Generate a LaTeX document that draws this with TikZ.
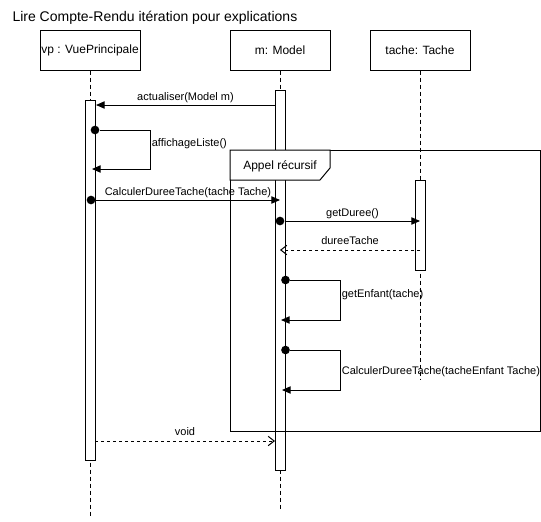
\documentclass[tikz,border=0pt]{standalone}
\usepackage{fontspec}
\setmainfont{Liberation Sans}
\usetikzlibrary{positioning,arrows.meta}
\begin{document}
\begin{tikzpicture}[x=0.75pt,y=-0.75pt,line width=0.75pt,
obj/.style = {draw, fill=white, minimum width=75pt, minimum height=30pt, inner sep=0pt, font=\fontsize{9}{11}\selectfont},
act/.style = {draw, fill=white, minimum width=7.5pt, inner sep=0pt},
lifeline/.style = {dash pattern=on 3pt off 2.25pt},
point/.style = {circle, fill = black, inner sep = 0pt, minimum size = 6.5pt},
msg/.style = {-{Triangle[length=6.5pt,width=5.5pt]}},
reply/.style = {dash pattern=on 2.25pt off 2.25pt, -{Straight Barb[length=4.5pt,width=7pt]}},
msglabel/.style = {midway, anchor=base, inner sep=0pt, yshift=3.5pt, font=\fontsize{8.25}{10}\selectfont},
selflabel/.style = {midway, anchor=base west, inner sep=1pt, font=\fontsize{8.25}{10}\selectfont},
]
\useasboundingbox (0,0) rectangle (541,521);
\node (title) at (12,21)[anchor=base west, inner sep=0pt, font=\fontsize{10.5}{12}\selectfont] {Lire Compte-Rendu itération pour explications};
\node (vp) at (90,50)[obj] {vp : VuePrincipale};
\node (m) at (280,50)[obj] {m: Model};
\node (tache) at (420,50)[obj] {tache: Tache};
\coordinate (vpend) at (90,517);
\coordinate (mend) at (280,510);
\coordinate (tacheend) at (420,380);
\draw[lifeline] (vp) -- (vpend);
\draw[lifeline] (m) -- (mend);
\draw[lifeline] (tache) -- (tacheend);
\node (vpact) at (90,280)[act, minimum height=270pt] {};
\node (mact) at (280,280)[act, minimum height=285pt] {};
\node (tacheact) at (420,225)[act, minimum height=67.5pt] {};
\draw (230,150) rectangle (540,431);
\draw[fill=white] (230,150) -- (330,150) -- (330,168) -- (320,180) -- (230,180) -- cycle;
\node (looplabel) at (280,169)[anchor=base, inner sep=0pt, font=\fontsize{9}{11}\selectfont] {Appel récursif};
\coordinate (m1) at (275,105);
\coordinate (vp1) at (96,105);
\draw[msg] (m1) -- node[msglabel] (lactualiser) {actualiser(Model m)} (vp1);
\node (dot1) at (95,130)[point] {};
\coordinate (aff1) at (150,130);
\coordinate (aff2) at (150,169);
\coordinate (aff3) at (92,169);
\draw[msg] (dot1) -- (aff1) -- node[selflabel, yshift=1.9pt] (laffichage) {affichageListe()} (aff2) -- (aff3);
\node (dot2) at (91,200)[point] {};
\coordinate (m2) at (280,200);
\draw[msg] (dot2) -- node[msglabel, yshift=0.25pt] (lcalcul) {CalculerDureeTache(tache Tache)} (m2);
\node (dot3) at (280,221)[point] {};
\coordinate (tache1) at (420,221);
\draw[msg] (dot3) -- node[msglabel] (lgetduree) {getDuree()} (tache1);
\coordinate (tache2) at (420,250);
\coordinate (m3) at (280,250);
\draw[reply] (tache2) -- node[msglabel, yshift=1pt] (ldureetache) {dureeTache} (m3);
\node (dot4) at (285.5,280)[point] {};
\coordinate (enf1) at (340,280);
\coordinate (enf2) at (340,320);
\coordinate (enf3) at (281,320);
\draw[msg] (dot4) -- (enf1) -- node[selflabel, yshift=1.7pt] (lgetenfant) {getEnfant(tache)} (enf2) -- (enf3);
\node (dot5) at (285.5,350)[point] {};
\coordinate (rec1) at (340,350);
\coordinate (rec2) at (340,390);
\coordinate (rec3) at (282,390);
\draw[msg] (dot5) -- (rec1) -- node[selflabel, yshift=-3.3pt] (lrecursif) {CalculerDureeTache(tacheEnfant Tache)} (rec2) -- (rec3);
\coordinate (vp2) at (95,441);
\coordinate (m4) at (275,441);
\draw[reply] (vp2) -- node[msglabel, yshift=1pt] (lvoid) {void} (m4);
\end{tikzpicture}
\end{document}
